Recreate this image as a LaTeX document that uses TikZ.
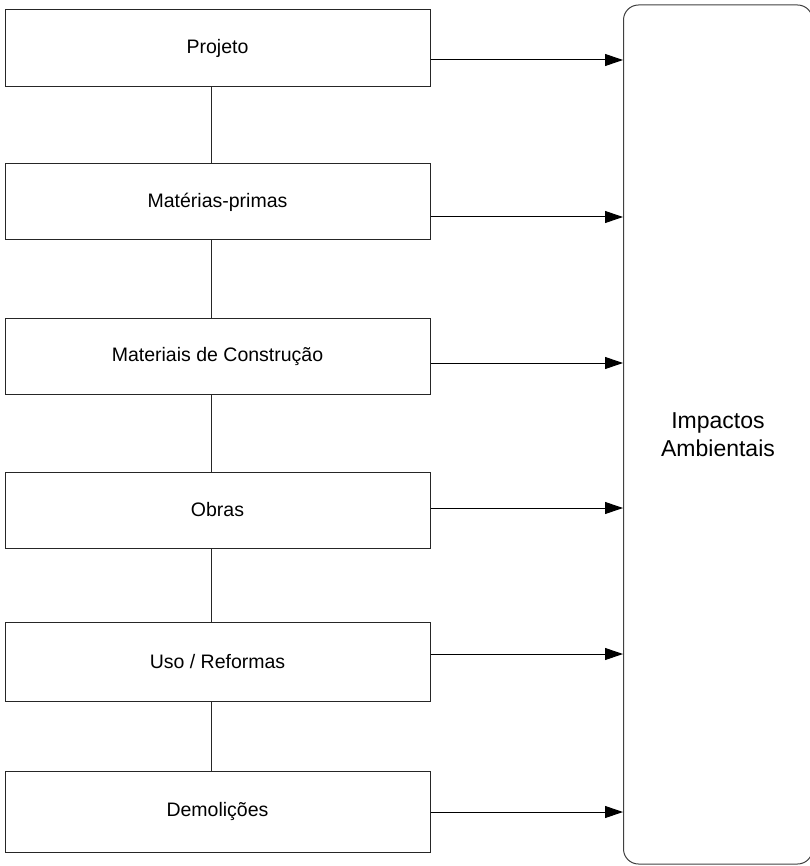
\documentclass[tikz,border=0pt]{standalone}
\usepackage{fontspec}
\setmainfont{Liberation Sans}
\usetikzlibrary{arrows.meta}
\begin{document}
\begin{tikzpicture}[x=1pt,y=-1pt,
  stage/.style={draw=black!85, line width=1pt, minimum width=425pt, inner sep=0pt,
    font=\fontsize{19.5}{22}\selectfont},
  impact/.style={draw=black!75, line width=1pt, rounded corners=15pt, inner sep=0pt,
    align=center, font=\fontsize{23}{28}\selectfont},
  link/.style={draw=black!85, line width=1pt},
  flow/.style={line width=1pt, -{Triangle[length=18pt,width=12pt]}}]
\useasboundingbox (0,0) rectangle (809,866);

% life-cycle stages
\node[stage, minimum height=77pt] (b1) at (217.5,48.5)  {Projeto};
\node[stage, minimum height=76pt] (b2) at (217.5,202)   {Matérias-primas};
\node[stage, minimum height=76pt] (b3) at (217.5,356)   {Materiais de Construção};
\node[stage, minimum height=76pt] (b4) at (217.5,510)   {Obras};
\node[stage, minimum height=79pt] (b5) at (217.5,661.5) {Uso / Reformas};
\node[stage, minimum height=81pt] (b6) at (217.5,811.5) {Demolições};

% environmental impacts
\node[impact, minimum width=189pt, minimum height=859pt] (imp) at (718,434.5)
  {Impactos\\Ambientais};

% links between consecutive stages
\foreach \a/\b in {b1/b2,b2/b3,b3/b4,b4/b5,b5/b6}
  \draw[link] ([xshift=-6.5pt]\a.south) -- ([xshift=-6.5pt]\b.north);

% arrows towards the impacts
\coordinate (a1) at ([yshift=-11.5pt]b1.east);
\coordinate (a2) at ([yshift=-15pt]b2.east);
\coordinate (a3) at ([yshift=-7pt]b3.east);
\coordinate (a4) at ([yshift=2pt]b4.east);
\coordinate (a5) at ([yshift=7.5pt]b5.east);
\coordinate (a6) at ([yshift=-0.5pt]b6.east);
\foreach \c in {a1,a2,a3,a4,a5,a6}
  \draw[flow] (\c) -- (\c -| imp.west);
\end{tikzpicture}
\end{document}
